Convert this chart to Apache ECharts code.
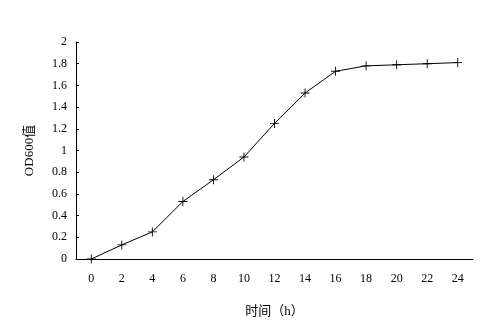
<!DOCTYPE html>
<html><head><meta charset="utf-8">
<script src="https://cdn.jsdelivr.net/npm/echarts@6/dist/echarts.min.js"></script>
<style>html,body{margin:0;padding:0;background:#fff}#c{width:498px;height:331px}</style>
</head><body><div id="c"></div>
<script>
const hours = ['0','2','4','6','8','10','12','14','16','18','20','22','24'];
const od600 = [0, 0.13, 0.25, 0.53, 0.73, 0.94, 1.25, 1.53, 1.73, 1.78, 1.79, 1.80, 1.81];
const xName = '时间（h）';
const yName = 'OD600值';
const font = "'Liberation Serif','Noto Sans CJK SC',serif";
const chart = echarts.init(document.getElementById('c'));
chart.setOption({
  animation: false,
  backgroundColor: '#fff',
  grid: {left: 76, right: 25, top: 42, bottom: 72, containLabel: false},
  xAxis: {
    type: 'category', data: hours, boundaryGap: true,
    name: xName, nameLocation: 'middle', nameGap: 46,
    nameTextStyle: {color: '#000', fontSize: 13, fontFamily: font},
    axisLine: {lineStyle: {color: '#000', width: 1}},
    axisTick: {inside: true, length: 4, lineStyle: {color: '#000'}},
    axisLabel: {color: '#000', fontSize: 12, fontFamily: font, margin: 14},
    splitLine: {show: false}
  },
  yAxis: {
    type: 'value', min: 0, max: 2, interval: 0.2,
    name: yName, nameLocation: 'middle', nameGap: 40,
    nameTextStyle: {color: '#000', fontSize: 13, fontFamily: font},
    axisLine: {show: true, lineStyle: {color: '#000', width: 1}},
    axisTick: {show: true, inside: true, length: 3, lineStyle: {color: '#000'}},
    axisLabel: {color: '#000', fontSize: 12, fontFamily: font, margin: 9},
    splitLine: {show: false}
  },
  series: [{
    type: 'line', data: od600,
    symbol: 'path://M4.5,0H5.5V4.5H10V5.5H5.5V10H4.5V5.5H0V4.5H4.5Z', symbolSize: 9,
    lineStyle: {color: '#000', width: 1},
    itemStyle: {color: '#000'}
  }]
});
</script></body></html>
